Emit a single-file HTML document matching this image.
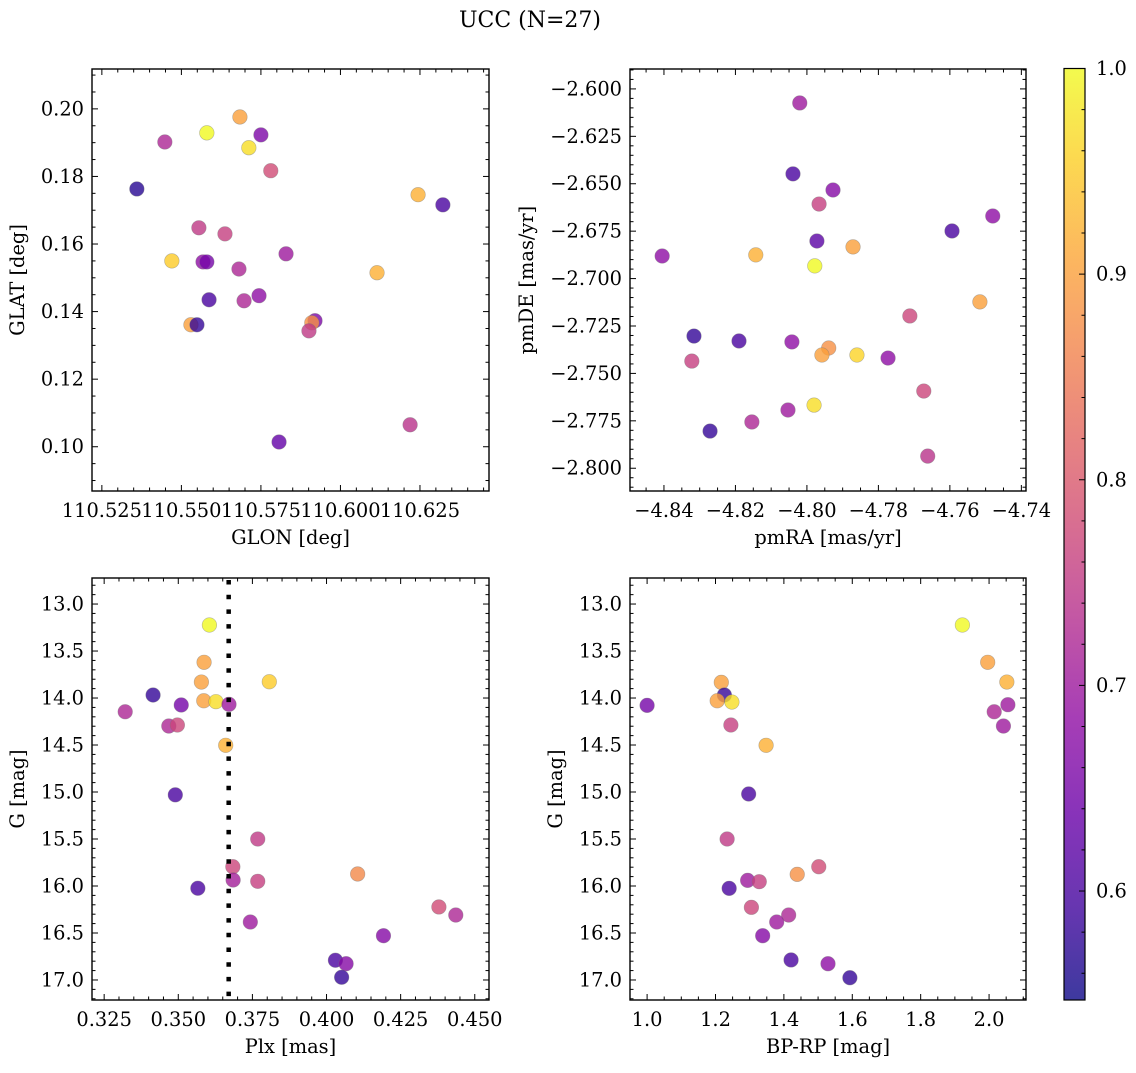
<!DOCTYPE html>
<html><head><meta charset="utf-8"><style>
html,body{margin:0;padding:0;background:#fff;}
svg text{font-family:"DejaVu Serif","Liberation Serif",serif;fill:#000;}
</style></head><body>
<svg id="fig" xmlns="http://www.w3.org/2000/svg" width="1136" height="1068" viewBox="0 0 1136 1068">
<rect x="0" y="0" width="1136" height="1068" fill="#fff"/>
<text x="530" y="27" font-size="22" text-anchor="middle">UCC (N=27)</text>
</svg>
<script>
// Panel 1: GLON / GLAT
const glon=[110.5360,110.5448,110.5580,110.5684,110.5750,110.5712,110.5781,110.6244,110.6322,110.5555,110.5637,110.5470,110.5568,110.5580,110.5829,110.5681,110.6115,110.5587,110.5697,110.5744,110.5530,110.5549,110.5920,110.5910,110.5901,110.5807,110.6219];
const glat=[0.1763,0.1902,0.1929,0.1976,0.1923,0.1885,0.1817,0.1746,0.1716,0.1648,0.1630,0.1550,0.1547,0.1547,0.1571,0.1526,0.1515,0.1435,0.1432,0.1447,0.1361,0.1361,0.1373,0.1367,0.1343,0.1014,0.1065];
const probA=[0.57,0.72,1.0,0.9,0.66,0.97,0.78,0.92,0.6,0.75,0.76,0.95,0.68,0.65,0.7,0.72,0.92,0.6,0.72,0.68,0.9,0.58,0.66,0.88,0.75,0.63,0.74];
// Panel 2: pmRA / pmDE
const pmra=[-4.8020,-4.8039,-4.7927,-4.7480,-4.7966,-4.7594,-4.7972,-4.7871,-4.8405,-4.8143,-4.7978,-4.7516,-4.7712,-4.8316,-4.8190,-4.8042,-4.7939,-4.7958,-4.8322,-4.7860,-4.7773,-4.7673,-4.7980,-4.8053,-4.8154,-4.8271,-4.7662];
const pmde=[-2.6074,-2.6448,-2.6533,-2.6670,-2.6607,-2.6749,-2.6802,-2.6833,-2.6881,-2.6875,-2.6933,-2.7123,-2.7197,-2.7303,-2.7329,-2.7334,-2.7366,-2.7403,-2.7435,-2.7403,-2.7419,-2.7593,-2.7667,-2.7693,-2.7756,-2.7804,-2.7936];
const probB=[0.7,0.6,0.67,0.68,0.76,0.6,0.62,0.9,0.68,0.92,1.0,0.9,0.77,0.58,0.6,0.68,0.88,0.9,0.76,0.96,0.68,0.77,0.97,0.7,0.72,0.58,0.74];
// Panel 3: Plx / G
const plx=[0.3605,0.3587,0.3578,0.3807,0.3415,0.3586,0.3627,0.3510,0.3671,0.3321,0.3468,0.3497,0.3660,0.3490,0.3768,0.3684,0.3685,0.3768,0.3566,0.4105,0.4379,0.4436,0.3743,0.4192,0.4030,0.4066,0.4051];
const gmagC=[13.223,13.620,13.830,13.827,13.968,14.029,14.039,14.074,14.067,14.146,14.298,14.287,14.503,15.030,15.500,15.795,15.936,15.950,16.024,15.872,16.223,16.309,16.383,16.529,16.790,16.827,16.971];
const probC=[1.0,0.9,0.9,0.95,0.58,0.9,0.97,0.65,0.7,0.72,0.72,0.77,0.92,0.6,0.75,0.77,0.71,0.76,0.6,0.87,0.78,0.72,0.7,0.67,0.6,0.67,0.58];
const plxLine=[0.367];
// Panel 4: BP-RP / G
const bprp=[1.922,1.996,2.052,1.217,1.226,1.205,1.248,1.000,2.055,2.015,2.042,1.245,1.348,1.297,1.234,1.502,1.439,1.294,1.328,1.240,1.305,1.414,1.379,1.338,1.421,1.529,1.593];
const gmagD=[13.223,13.620,13.830,13.833,13.968,14.029,14.043,14.078,14.071,14.146,14.298,14.287,14.503,15.021,15.500,15.795,15.876,15.940,15.954,16.025,16.227,16.309,16.383,16.529,16.787,16.827,16.976];
const probD=[1.0,0.9,0.92,0.9,0.58,0.9,0.97,0.65,0.7,0.72,0.7,0.76,0.92,0.6,0.75,0.78,0.88,0.7,0.76,0.6,0.77,0.72,0.7,0.67,0.6,0.68,0.58];
// tick labels
const glonTicks=[110.525,110.550,110.575,110.600,110.625];
const glatTicks=[0.10,0.12,0.14,0.16,0.18,0.20];
const pmraTicks=[-4.84,-4.82,-4.80,-4.78,-4.76,-4.74];
const pmdeTicks=[-2.800,-2.775,-2.750,-2.725,-2.700,-2.675,-2.650,-2.625,-2.600];
const plxTicks=[0.325,0.350,0.375,0.400,0.425,0.450];
const gTicks=[13.0,13.5,14.0,14.5,15.0,15.5,16.0,16.5,17.0];
const bprpTicks=[1.0,1.2,1.4,1.6,1.8,2.0];
const cbTicks=[0.6,0.7,0.8,0.9,1.0];

const NS="http://www.w3.org/2000/svg";
const svg=document.getElementById('fig');
const VMIN=0.547,VMAX=1.0;
const FS=19.4;
const PL=[[0,13,8,135],[0.1,65,4,157],[0.2,106,0,168],[0.3,143,13,164],[0.4,177,42,144],[0.5,204,71,120],[0.6,225,100,98],[0.7,242,132,75],[0.8,252,166,54],[0.9,252,206,37],[1,240,249,33]];
function plasma(t){t=Math.max(0,Math.min(1,t));for(let i=0;i<PL.length-1;i++){const a=PL[i],b=PL[i+1];if(t<=b[0]){const f=(t-a[0])/(b[0]-a[0]);return `rgb(${Math.round(a[1]+f*(b[1]-a[1]))},${Math.round(a[2]+f*(b[2]-a[2]))},${Math.round(a[3]+f*(b[3]-a[3]))})`;}}return 'rgb(240,249,33)';}
function mk(tag,attrs,parent){const e=document.createElementNS(NS,tag);for(const k in attrs)e.setAttribute(k,attrs[k]);(parent||svg).appendChild(e);return e;}
function fmtMinus(s){return s.replace('-','\u2212');}

function panel(cfg){
  const g=mk('g',{});
  
  
  const sx=v=>cfg.L+(v-cfg.xd[0])/(cfg.xd[1]-cfg.xd[0])*(cfg.R-cfg.L);
  const sy=v=>cfg.B-(v-cfg.yd[0])/(cfg.yd[1]-cfg.yd[0])*(cfg.B-cfg.T);
  const pg=mk('g',{},g);
  
  
  for(let i=0;i<cfg.xs.length;i++){
    const c=mk('circle',{cx:sx(cfg.xs[i]),cy:sy(cfg.ys[i]),r:7.3,fill:plasma((cfg.cs[i]-VMIN)/(VMAX-VMIN)),'fill-opacity':0.8,stroke:'#777','stroke-opacity':0.5,'stroke-width':0.6},pg);
    
    
  }
  if(cfg.vline){for(const v of cfg.vline){const l=mk('line',{x1:sx(v),x2:sx(v),y1:cfg.T+2,y2:cfg.B,stroke:'#000','stroke-width':4.5,'stroke-dasharray':'4.5 10.2'},g);
    
    }}
  const tg=mk('g',{stroke:'#000','stroke-width':1},g);
  const inX=v=>v>=cfg.xd[0]-1e-9&&v<=cfg.xd[1]+1e-9, inY=v=>v>=Math.min(...cfg.yd)-1e-9&&v<=Math.max(...cfg.yd)+1e-9;
  const x0=cfg.xt[0],xs=cfg.xt[1]-cfg.xt[0],xm=xs/cfg.xmn;
  for(let k=-40;k<400;k++){const v=x0+k*xm;if(!inX(v))continue;const major=(k%cfg.xmn===0);const len=major?6:3.5;const p=sx(v);
    mk('line',{x1:p,x2:p,y1:cfg.B,y2:cfg.B-len},tg);mk('line',{x1:p,x2:p,y1:cfg.T,y2:cfg.T+len},tg);}
  const y0=cfg.yt[0],ys=cfg.yt[1]-cfg.yt[0],ym=ys/cfg.ymn;
  for(let k=-40;k<400;k++){const v=y0+k*ym;if(!inY(v))continue;const major=(k%cfg.ymn===0);const len=major?6:3.5;const p=sy(v);
    mk('line',{y1:p,y2:p,x1:cfg.L,x2:cfg.L+len},tg);mk('line',{y1:p,y2:p,x1:cfg.R,x2:cfg.R-len},tg);}
  const fr=mk('rect',{x:cfg.L,y:cfg.T,width:cfg.R-cfg.L,height:cfg.B-cfg.T,fill:'none',stroke:'#000','stroke-width':1.4},g);
  
  
  for(const v of cfg.xt){const t=mk('text',{x:sx(v),y:cfg.B+26,'font-size':FS,'text-anchor':'middle'},g);t.textContent=fmtMinus(v.toFixed(cfg.xdp));
    
    }
  for(const v of cfg.yt){const t=mk('text',{x:cfg.L-8,y:sy(v)+6.5,'font-size':FS,'text-anchor':'end'},g);t.textContent=fmtMinus(v.toFixed(cfg.ydp));
    
    }
  const xl=mk('text',{x:(cfg.L+cfg.R)/2,y:cfg.B+53,'font-size':FS,'text-anchor':'middle'},g);xl.textContent=cfg.xlab;
  
  
  const yx=cfg.ylx,yy=(cfg.T+cfg.B)/2;
  const yl=mk('text',{x:yx,y:yy,'font-size':FS,'text-anchor':'middle',transform:`rotate(-90 ${yx} ${yy})`},g);yl.textContent=cfg.ylab;
  
  
}

panel({name:'glon-glat-panel',L:92,R:489,T:69,B:491,xd:[110.5219,110.6467],yd:[0.0869,0.2118],xs:glon,ys:glat,cs:probA,xt:glonTicks,xmn:5,xdp:3,yt:glatTicks,ymn:4,ydp:2,xlab:'GLON [deg]',ylab:'GLAT [deg]',ylx:24});
panel({name:'proper-motion-panel',L:630,R:1026,T:69,B:491,xd:[-4.8495,-4.7387],yd:[-2.812,-2.5895],xs:pmra,ys:pmde,cs:probB,xt:pmraTicks,xmn:4,xdp:2,yt:pmdeTicks,ymn:5,ydp:3,xlab:'pmRA [mas/yr]',ylab:'pmDE [mas/yr]',ylx:533});
panel({name:'plx-g-panel',L:92,R:489,T:578,B:1000,xd:[0.3209,0.4548],yd:[17.213,12.723],xs:plx,ys:gmagC,cs:probC,xt:plxTicks,xmn:5,xdp:3,yt:gTicks,ymn:5,ydp:1,xlab:'Plx [mas]',ylab:'G [mag]',ylx:24,vline:plxLine});
panel({name:'cmd-panel',L:630,R:1026,T:578,B:1000,xd:[0.95,2.108],yd:[17.213,12.723],xs:bprp,ys:gmagD,cs:probD,xt:bprpTicks,xmn:4,xdp:1,yt:gTicks,ymn:5,ydp:1,xlab:'BP-RP [mag]',ylab:'G [mag]',ylx:562});

(function(){
  const L=1064,R=1085,T=68.5,B=1000;
  const cg=mk('g',{});
  
  
  const defs=mk('defs',{},cg);
  const lg=mk('linearGradient',{id:'cbg',x1:0,y1:1,x2:0,y2:0},defs);
  for(let i=0;i<=20;i++){const t=i/20;mk('stop',{offset:t,'stop-color':plasma(t),'stop-opacity':0.8},lg);}
  mk('rect',{x:L,y:T,width:R-L,height:B-T,fill:'url(#cbg)',stroke:'#000','stroke-width':1.2},cg);
  const sy=v=>B-(v-VMIN)/(VMAX-VMIN)*(B-T);
  for(let k=0;k<30;k++){const v=0.56+k*0.02;if(v>VMAX+1e-9)break;const major=Math.abs((v*10)-Math.round(v*10))<1e-6;
    mk('line',{x1:R,x2:R-(major?6:3.5),y1:sy(v),y2:sy(v),stroke:'#000','stroke-width':1},cg);}
  for(const v of cbTicks){const t=mk('text',{x:R+11,y:sy(v)+6.5,'font-size':FS},cg);t.textContent=v.toFixed(1);
    
    }
})();
</script>
</body></html>
